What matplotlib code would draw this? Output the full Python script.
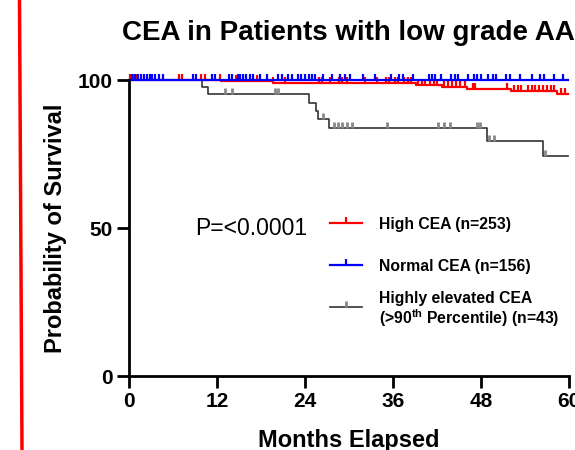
import numpy as np
import matplotlib
matplotlib.use("Agg")
import matplotlib.pyplot as plt
from matplotlib.path import Path
from matplotlib.lines import Line2D

plt.rcParams['font.family'] = ['Liberation Sans', 'DejaVu Sans']
plt.rcParams['mathtext.fontset'] = 'custom'
plt.rcParams['mathtext.bf'] = 'Liberation Sans:bold'
plt.rcParams['mathtext.rm'] = 'Liberation Sans:bold'

# Kaplan-Meier steps (months, % surviving)
normal_t = [0, 59.8]
normal_s = [100, 100]
high_t = [0, 12.5, 19.6, 39.1, 42.7, 46.1, 52.1, 58.3, 59.8]
high_s = [100, 99.5, 98.9, 98.3, 97.5, 96.8, 96.2, 95.3, 95.3]
black_t = [0, 9.9, 10.8, 24.5, 25.5, 25.8, 27.3, 48.8, 56.5, 59.8]
black_s = [100, 97.7, 95.2, 92.3, 89.5, 86.7, 83.9, 79.5, 74.4, 74.4]

# censored times
normal_cens = [0.4, 0.8, 1.2, 1.6, 2.0, 2.4, 2.8, 3.1, 3.6, 4.1, 4.6, 8.7, 9.2,
               11.3, 11.7, 13.6, 14.0, 14.8, 15.1, 15.5, 16.0, 16.5, 16.9, 17.9,
               18.8, 20.3, 20.8, 21.7, 22.2, 23.0, 23.5, 24.0, 24.5, 25.0, 25.4,
               26.5, 27.7, 28.8, 29.4, 30.2, 31.9, 33.5, 35.7, 36.8, 37.3, 38.7,
               40.9, 41.3, 41.7, 42.5, 43.9, 44.4, 44.9, 46.2, 47.0, 47.5, 48.0,
               48.9, 49.7, 50.1, 51.4, 51.9, 53.3, 55.0, 56.1, 56.6, 57.9, 59.2]
high_cens = [0.1, 0.6, 1.0, 6.8, 7.2, 9.8, 10.3, 12.4, 14.6, 17.5, 19.6, 21.3,
             25.9, 26.3, 27.4, 28.6, 29.0, 29.7, 32.2, 33.8, 35.0, 35.5, 36.3,
             36.7, 37.5, 38.0, 38.5, 39.4, 39.9, 40.4, 41.1, 41.6, 42.0, 42.9,
             43.5, 44.0, 44.6, 45.2, 45.8, 46.9, 47.2, 51.5, 52.5, 53.0, 53.5,
             54.4, 54.9, 55.4, 55.9, 56.4, 57.0, 57.5, 58.0, 58.9, 59.5]
black_cens = [13.1, 14.0, 19.9, 20.3, 26.5, 27.9, 28.5, 29.1, 29.7, 30.4, 35.2,
              42.1, 42.9, 43.8, 47.5, 47.9, 49.1, 49.8, 56.7]

labels = [['High CEA (n=253)'],
          ['Normal CEA (n=156)'],
          ['Highly elevated CEA', '(>90$^{\\mathbf{th}}$ Percentile) (n=43)']]

tick = Path([[0, 0], [0, 1]])


def level_at(ts, ss, t):
    idx = np.searchsorted(ts, t, side='right') - 1
    return np.asarray(ss)[idx]


fig = plt.figure(figsize=(5.75, 4.5), dpi=100)
ax = fig.add_axes([129/575, 1-376/450, 440/575, 296/450])

series = [
    (black_t, black_s, black_cens, '#333333', '#888888', 1.2, 2.0),
    (high_t, high_s, high_cens, 'red', 'red', 1.6, 1.6),
    (normal_t, normal_s, normal_cens, 'blue', 'blue', 1.6, 1.6),
]
for t, s, c, col, mcol, lw, mw in series:
    ax.step(t, s, where='post', color=col, lw=lw, clip_on=False)
    ax.plot(c, level_at(t, s, c), ls='none', marker=tick, ms=8, mec=mcol,
            mew=mw, clip_on=False)

ax.set_xlim(0, 60)
ax.set_ylim(0, 100)
ax.set_xticks([0, 12, 24, 36, 48, 60])
ax.set_yticks([0, 50, 100])
for side in ['top', 'right']:
    ax.spines[side].set_visible(False)
for side in ['left', 'bottom']:
    ax.spines[side].set_linewidth(2)
ax.tick_params(direction='out', length=8.5, width=2, labelsize=15, pad=3)
for lab in ax.get_xticklabels() + ax.get_yticklabels():
    lab.set_fontweight('bold')

ax.set_xlabel('Months Elapsed', fontsize=17, fontweight='bold', labelpad=13)
ax.set_ylabel('Probability of Survival', fontsize=17, fontweight='bold', labelpad=8)
fig.text(122/575, 1-40/450, 'CEA in Patients with low grade AA', fontsize=20,
         fontweight='bold', ha='left', va='baseline')

ax.text(0.15, 0.5, 'P=<0.0001', transform=ax.transAxes, fontsize=16.5, va='center')

# legend keys drawn by hand (axes fractions)
key_y = [0.517, 0.375, 0.233]
text_y = [[0.497], [0.356], [0.248, 0.177]]
for (t, s, c, col, mcol, lw, mw), ky, ty, lab in zip(
        [series[1], series[2], series[0]], key_y, text_y, labels):
    ax.plot([0.457, 0.530], [ky, ky], transform=ax.transAxes, color=col, lw=lw,
            clip_on=False)
    ax.plot([0.4935], [ky], transform=ax.transAxes, ls='none', marker=tick, ms=8,
            mec=mcol, mew=mw, clip_on=False)
    for yy, line in zip(ty, lab):
        ax.text(0.568, yy, line, transform=ax.transAxes, fontsize=11.3,
                fontweight='bold', va='baseline', ha='left')

# red stroke along the left edge of the picture
fig.add_artist(Line2D([19.5/575, 22/575], [1, 0], transform=fig.transFigure,
                      color='red', lw=2.5))

fig.savefig('out.png', dpi=100)
